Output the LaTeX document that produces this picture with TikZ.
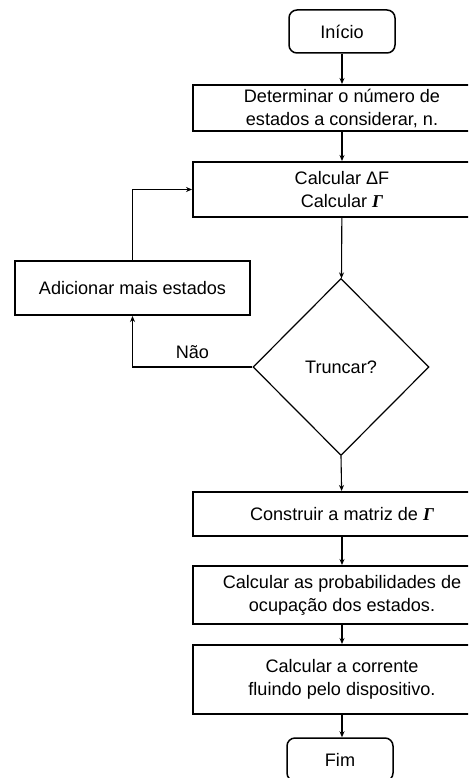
\documentclass[tikz,border=0pt]{standalone}
\usepackage{fontspec}
\setmainfont{Liberation Sans}
\newfontfamily\gamfont{Liberation Serif}
\usetikzlibrary{shapes.geometric,arrows.meta}
\newcommand{\Gam}{{\gamfont\bfseries\itshape Γ}}
\begin{document}
\begin{tikzpicture}[
  x=1pt, y=-1pt,
  every node/.style={font=\fontsize{18.1}{23}\selectfont, align=center, inner sep=0pt},
  proc/.style={draw, line width=2pt, minimum width=298pt},
  term/.style={draw, line width=1.5pt, rounded corners=8pt, minimum width=106pt, minimum height=43pt},
  decis/.style={draw, diamond, line width=1.2pt, minimum width=176pt, minimum height=177pt},
  flow/.style={draw, line width=1.1pt, -{Stealth[length=6pt,width=5pt]}}
]
\path[use as bounding box, clip] (0,0) rectangle (468,778);
\node[term] (inicio) at (342,31.5) {Início};
\node[proc, minimum height=46pt] (estados) at (342,108) {Determinar o número de\\estados a considerar, n.};
\node[proc, minimum height=55pt] (calc) at (342,189.5) {Calcular ΔF\\Calcular \Gam};
\node[proc, minimum width=235pt, minimum height=54pt] (adic) at (132.5,288) {Adicionar mais estados};
\node[decis] (trunc) at (341,367) {Truncar?};
\node[proc, minimum height=44pt] (matriz) at (342,514) {Construir a matriz de \Gam};
\node[proc, minimum height=58pt] (prob) at (342,595) {Calcular as probabilidades de\\ocupação dos estados.};
\node[proc, minimum height=69pt] (corr) at (342,679.5) {Calcular a corrente\\fluindo pelo dispositivo.};
\node[term] (fim) at (340,759.5) {Fim};

\draw[flow] (inicio) -- (estados);
\draw[flow] (estados) -- (calc);
\draw[flow] (calc) -- (trunc);
\draw[flow] (trunc.west) -| node[pos=0.25, above=8pt] {Não} (adic.south);
\draw[flow] (adic.north) |- (calc.west);
\draw[flow] (trunc.south) -- (matriz);
\draw[flow] (matriz) -- (prob);
\draw[flow] (prob) -- (corr);
\draw[flow] (corr.south) -- (corr.south |- fim.north);
\end{tikzpicture}
\end{document}
